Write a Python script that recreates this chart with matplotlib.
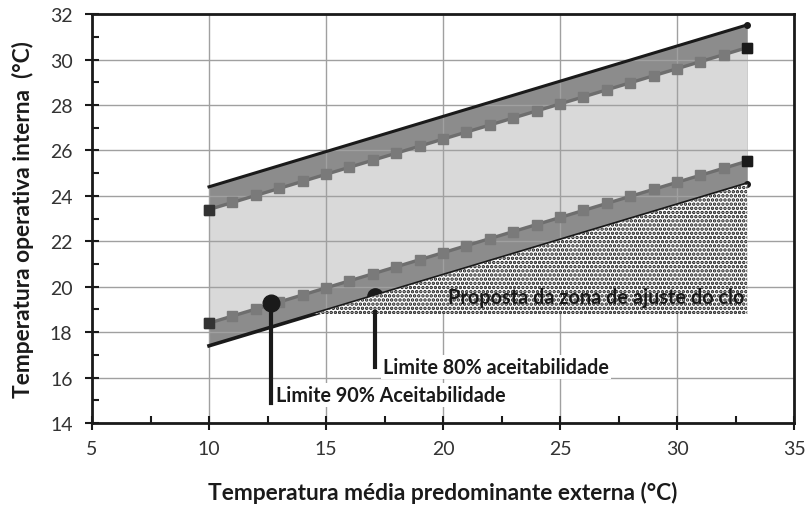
import matplotlib
matplotlib.use("Agg")
import matplotlib.pyplot as plt

plt.rcParams['font.family'] = ['Lato', 'DejaVu Sans']
plt.rcParams['hatch.linewidth'] = 1.7

# Data
x_line = [10, 33]
upper80 = [24.4, 31.53]
lower80 = [17.4, 24.53]
x_mark = [10, 11, 12, 13, 14, 15, 16, 17, 18, 19, 20, 21, 22, 23, 24, 25, 26, 27, 28, 29, 30, 31, 32, 33]
upper90 = [23.4, 23.71, 24.02, 24.33, 24.64, 24.95, 25.26, 25.57, 25.88, 26.19, 26.5, 26.81,
           27.12, 27.43, 27.74, 28.05, 28.36, 28.67, 28.98, 29.29, 29.6, 29.91, 30.22, 30.53]
lower90 = [18.4, 18.71, 19.02, 19.33, 19.64, 19.95, 20.26, 20.57, 20.88, 21.19, 21.5, 21.81,
           22.12, 22.43, 22.74, 23.05, 23.36, 23.67, 23.98, 24.29, 24.6, 24.91, 25.22, 25.53]
x_clo = [14.5, 33]
clo_top = [18.8, 24.53]
clo_bottom = [18.8, 18.8]
limit90_pt = (12.65, 19.28)
limit90_end = 14.88
limit80_pt = (17.09, 19.6)
limit80_seg = (18.88, 16.46)

fig = plt.figure(figsize=(8.07, 5.06), dpi=100)
ax = fig.add_axes([0.114, 0.162, 0.870, 0.808])

dark = '#8c8c8c'
light = '#d9d9d9'
ax.fill_between(x_line, lower80, upper80, color=dark, lw=0, zorder=0.5)
ax.fill_between(x_mark, lower90, upper90, color=light, lw=0, zorder=0.6)

ax.set_xlim(5, 35)
ax.set_ylim(14, 32)
ax.set_xticks([5, 10, 15, 20, 25, 30, 35])
ax.set_yticks([14, 16, 18, 20, 22, 24, 26, 28, 30, 32])
ax.set_xticks([7.5, 12.5, 17.5, 22.5, 27.5, 32.5], minor=True)
ax.set_yticks([15, 17, 19, 21, 23, 25, 27, 29, 31], minor=True)
ax.grid(True, which='major', color='#a0a0a0', lw=1.0, zorder=1)
ax.set_axisbelow(False)
for gl in ax.get_xgridlines() + ax.get_ygridlines():
    gl.set_zorder(1)

# 80% lines
ax.plot(x_line, upper80, color='#1a1a1a', lw=2.2, zorder=3)
ax.plot(x_line, lower80, color='#1a1a1a', lw=2.6, zorder=3)
ax.plot([x_line[-1]], [upper80[-1]], 'o', color='#1a1a1a', ms=4, zorder=3)
ax.plot([x_line[-1]], [lower80[-1]], 'o', color='#1a1a1a', ms=4, zorder=3)

# 90% lines
for yv in (upper90, lower90):
    ax.plot(x_mark, yv, color='#6e6e6e', lw=2.4, marker='s', ms=7,
            mfc='#7a7a7a', mec='#7a7a7a', zorder=3)
    ax.plot([x_mark[-1]], [yv[-1]], 's', color='#1a1a1a', ms=7.5, zorder=3.2)
    ax.plot([x_mark[0]], [yv[0]], 's', color='#333333', ms=7, zorder=3.2)

# 80% limit marker (under stipple)
ax.plot([limit80_pt[0]], [limit80_pt[1]], 'o', color='#1a1a1a', ms=11, zorder=3.5)

# Stipple region
ax.fill_between(x_clo, clo_bottom, clo_top, facecolor='white', edgecolor='#1a1a1a',
                hatch='....', lw=0, zorder=4)

ax.text(20.2, 19.54, 'Proposta da zona de ajuste do clo', fontsize=14.3, fontweight='bold',
        color='#1a1a1a', va='center', ha='left', zorder=5)

# 90% limit marker
ax.plot([limit90_pt[0], limit90_pt[0]], [limit90_pt[1], limit90_end], color='#1a1a1a', lw=3, zorder=5)
ax.plot([limit90_pt[0]], [limit90_pt[1]], 'o', color='#1a1a1a', ms=12, zorder=5)
ax.plot([limit80_pt[0], limit80_pt[0]], list(limit80_seg), color='#1a1a1a', lw=3, zorder=5)

ax.text(12.85, 15.23, 'Limite 90% Aceitabilidade', fontsize=14.2, fontweight='bold',
        color='#1a1a1a', va='center', ha='left', zorder=6,
        bbox=dict(facecolor='white', edgecolor='none', pad=1.5))
ax.text(17.45, 16.46, 'Limite 80% aceitabilidade', fontsize=14.2, fontweight='bold',
        color='#1a1a1a', va='center', ha='left', zorder=6,
        bbox=dict(facecolor='white', edgecolor='none', pad=1.5))

for s in ax.spines.values():
    s.set_linewidth(2)
    s.set_color('#1a1a1a')
    s.set_zorder(7)

ax.tick_params(which='major', direction='inout', length=10, width=1.5, colors='#1a1a1a',
               labelsize=14, labelcolor='#333333')
ax.tick_params(axis='x', which='major', pad=7)
ax.tick_params(axis='y', which='major', pad=9)
ax.tick_params(which='minor', direction='in', length=5, width=1.5, colors='#1a1a1a')

ax.set_xlabel('Temperatura média predominante externa (°C)', fontsize=16.4, fontweight='bold',
              color='#1a1a1a')
ax.set_ylabel('Temperatura operativa interna  (°C)', fontsize=16.4, fontweight='bold',
              color='#1a1a1a')
ax.xaxis.set_label_coords(0.5, -0.142)
ax.yaxis.set_label_coords(-0.082, 0.5)

fig.savefig('out.png', dpi=100)
